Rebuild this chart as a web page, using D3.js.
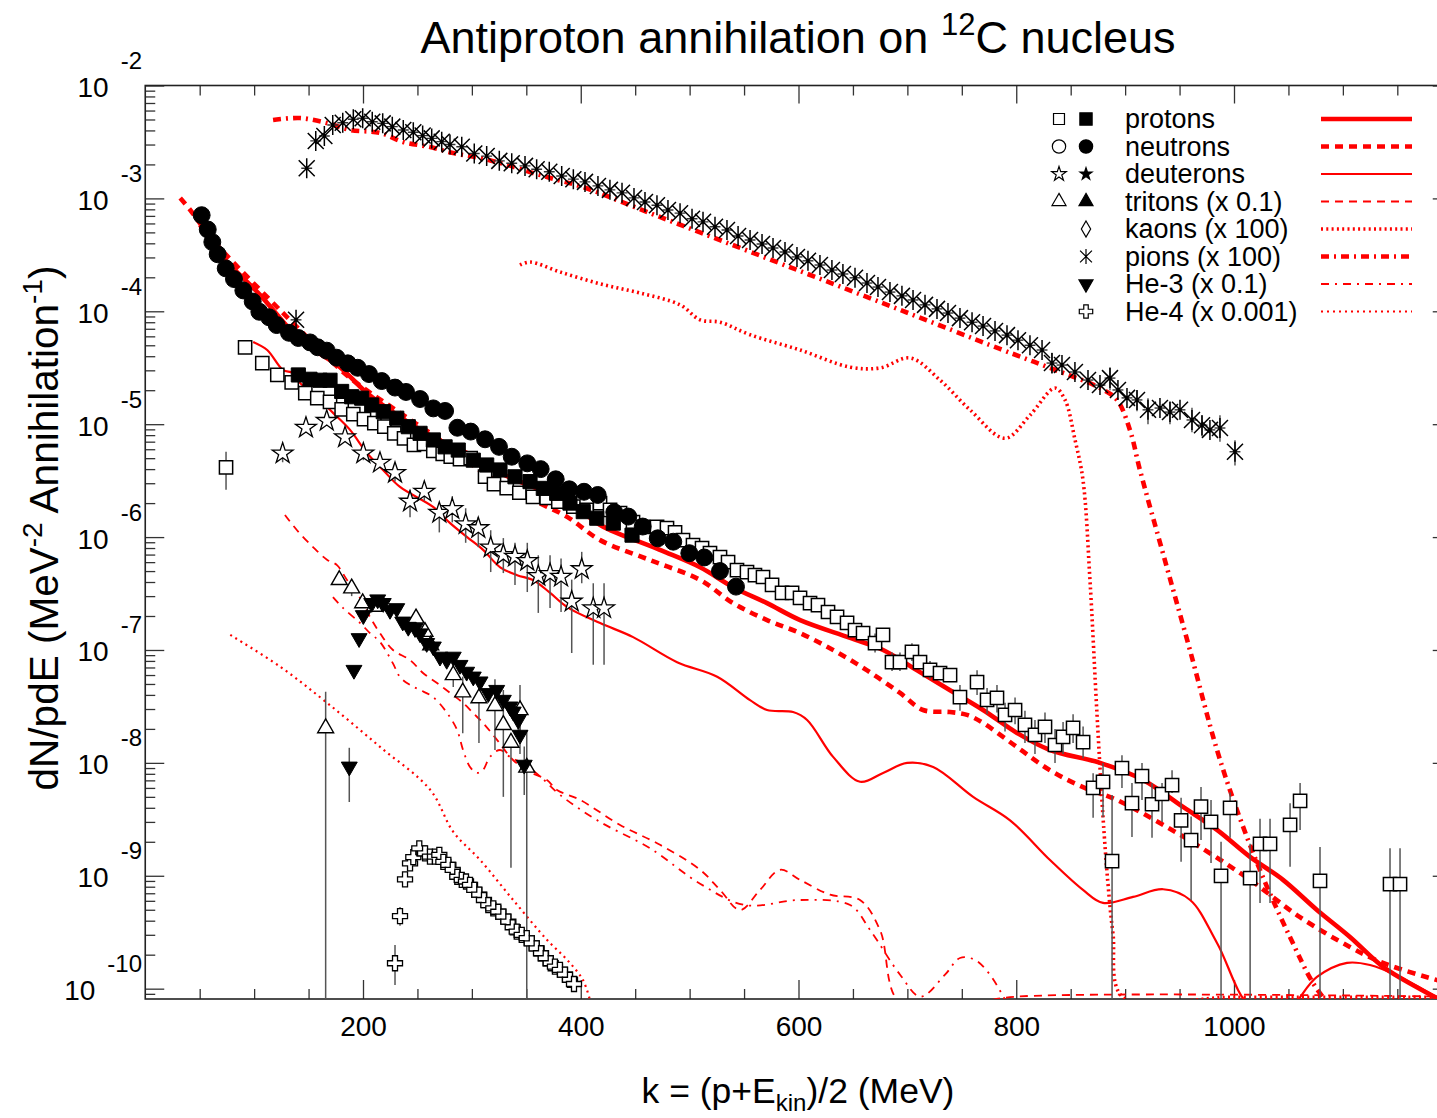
<!DOCTYPE html>
<html>
<head>
<meta charset="utf-8">
<script src="https://cdn.jsdelivr.net/npm/d3@7/dist/d3.min.js"></script>
<style>
body { margin: 0; background: #fff; }
svg { display: block; }
text { font-family: Arial, "Liberation Sans", Helvetica, sans-serif; fill: #000; }
</style>
</head>
<body>
<svg id="chart" width="1437" height="1118"></svg>
<script>
// ---- data: [k (MeV), dN/pdE] ; optional [k, v, low, high] for error bars ----
const protonCurve = [[50.3,5.8e-4],[71.5,3.0e-4],[105.6,1.39e-4],[142.2,5.6e-5],[178.9,3.2e-5],[203.6,1.89e-5],[234,1.16e-5],[264.4,7.7e-6],[295.6,5.55e-6],[326,3.7e-6],[356.2,2.78e-6],[387.5,2.13e-6],[417.8,1.28e-6],[472.7,7.7e-7],[509.6,5.4e-7],[539.9,3.6e-7],[571.1,2.6e-7],[601.5,1.84e-7],[647.4,1.28e-7],[677.7,1.0e-7],[708.9,6.6e-8],[739.2,4.4e-8],[769.5,2.94e-8],[800.7,1.84e-8],[831,1.3e-8],[877,1.0e-8],[916.5,7.06e-9],[953.2,4.07e-9],[984.4,2.55e-9],[1014.7,1.47e-9],[1045,9.2e-10],[1076.2,4.98e-10],[1106.5,2.87e-10],[1136.9,1.56e-10],[1168,1.03e-10],[1198,7.2e-11]];
const neutronCurve = [[32.1,1.01e-3],[41.3,7.9e-4],[59.5,4.55e-4],[80.6,2.73e-4],[114.6,1.26e-4],[139.4,7.25e-5],[160.5,4.54e-5],[188.1,2.57e-5],[234,1.26e-5],[270.7,7.25e-6],[316.6,3.4e-6],[356.2,2.13e-6],[387.5,1.51e-6],[417.8,9.4e-7],[463.7,6.25e-7],[509.6,4.17e-7],[539.9,2.6e-7],[571.1,1.84e-7],[601.5,1.41e-7],[631.8,1.0e-7],[663,6.6e-8],[693.3,4.16e-8],[714.4,2.94e-8],[739.2,2.82e-8],[754.8,2.66e-8],[769.5,2.26e-8],[800.7,1.38e-8],[831,8.6e-9],[861.3,6.1e-9],[892.5,4.69e-9],[938.4,2.7e-9],[968.8,1.8e-9],[1014.7,9.2e-10],[1060.6,4.3e-10],[1106.5,2.34e-10],[1136.9,1.69e-10],[1186.5,1.19e-10],[1200,1.1e-10]];
const deuteronCurve = [[99.1,5.35e-5],[112,4.54e-5],[126.5,3.02e-5],[135.7,2.84e-5],[142.2,2.32e-5],[157.8,1.74e-5],[172.5,1.26e-5],[188.1,8.9e-6],[203.6,5.55e-6],[218.4,3.93e-6],[234,2.78e-6],[264.4,1.85e-6],[280,1.33e-6],[295.6,1.0e-6],[310.3,7.7e-7],[326,5.4e-7],[341.6,4.6e-7],[356.2,4.17e-7],[371.9,3.2e-7],[387.5,2.4e-7],[417.8,1.73e-7],[448.1,1.3e-7],[488.5,7.8e-8],[525.3,5.8e-8],[555.5,3.6e-8],[571.1,2.94e-8],[595,2.82e-8],[607.9,2.4e-8],[631.8,1.13e-8],[656.6,6.8e-9],[677.7,8.15e-9],[699.8,1.0e-8],[723.7,9.2e-9],[760.4,5.0e-9],[794.3,3.1e-9],[831,1.38e-9],[861.3,7.5e-10],[879.7,5.75e-10],[907.3,6.5e-10],[934.9,7.6e-10],[959.7,6.1e-10],[984.4,2.54e-10],[1014.7,7e-11],[1045,6e-11],[1076.2,1.27e-10],[1103.8,1.69e-10],[1124.9,1.62e-10],[1152.4,1.27e-10],[1186.5,8.4e-11],[1200,7.5e-11]];
const tritonCurve = [[128.3,1.57e-6],[139.4,1.15e-6],[154.1,8.15e-7],[166.9,6.3e-7],[176.1,5.65e-7],[185.3,4.17e-7],[194.5,3.2e-7],[206.4,1.96e-7],[215.6,1.41e-7],[227.5,1.0e-7],[243.2,8.15e-8],[255.1,6.25e-8],[268,5.1e-8],[279.9,4.17e-8],[291.8,3.4e-8],[301,2.77e-8],[310.2,2.26e-8],[323.1,1.6e-8],[337.8,1.06e-8],[353.4,8.3e-9],[369,7.05e-9],[378.2,5.75e-9],[399.4,4.7e-9],[436.1,2.82e-9],[472.8,1.88e-9],[509.6,1.13e-9],[527.9,7.5e-10],[546.3,4.97e-10],[564.7,7.5e-10],[583,1.13e-9],[601.4,9.2e-10],[629,6.8e-10],[656.5,6.1e-10],[674.9,3.3e-10],[693.2,7.5e-11],[760,7.5e-11],[800,8.5e-11],[1200,8.5e-11]];
const kaonCurve = [[344.2,2.57e-4],[353.4,2.73e-4],[380.9,2.23e-4],[417.8,1.75e-4],[454.5,1.45e-4],[491.3,1.14e-4],[509.6,8.4e-5],[528,8.0e-5],[555.5,6.2e-5],[601.5,4.54e-5],[647.4,3.2e-5],[675,3.15e-5],[702.5,3.86e-5],[730,2.46e-5],[757.5,1.34e-5],[789.7,7.5e-6],[812.6,1.2e-5],[835.6,2.09e-5],[844.8,1.64e-5],[854,7.25e-6],[861.3,3.2e-6],[867.7,4.17e-7],[874.1,2.77e-8],[879.7,3.3e-9],[884.2,8.6e-10],[888.8,3.1e-10],[897.9,8.4e-11],[1000,8.4e-11],[1200,8.4e-11]];
const pionCurve = [[117.4,4.95e-3],[142.2,5.15e-3],[167,4.65e-3],[188.1,4.04e-3],[215.7,3.8e-3],[236.8,3.16e-3],[261.6,2.85e-3],[282.7,2.52e-3],[307.5,2.28e-3],[332.3,1.98e-3],[356.2,1.68e-3],[378.2,1.46e-3],[402.1,1.26e-3],[463.7,7.4e-4],[509.6,5.0e-4],[601.5,2.27e-4],[693.3,1.03e-4],[785.1,4.64e-5],[831,3.15e-5],[877,2.09e-5],[892.5,1.64e-5],[904.4,8.9e-6],[913.6,3.93e-6],[936.5,6.25e-7],[959.5,1.0e-7],[984.4,1.3e-8],[1002.7,3.83e-9],[1026.6,9.7e-10],[1051.4,2.87e-10],[1072.6,1.12e-10],[1088,7e-11]];
const he3Curve = [[172.4,2.94e-7],[181.6,2.36e-7],[197.2,1.74e-7],[206.4,1.41e-7],[215.6,1.18e-7],[227.5,7.6e-8],[234,5.75e-8],[243.2,4.9e-8],[252.4,4.42e-8],[264.3,3.83e-8],[277.2,2.77e-8],[286.4,1.96e-8],[291.9,1.3e-8],[298.3,9.2e-9],[304.7,8.15e-9],[310.2,8.65e-9],[316.6,1.13e-8],[325.8,1.3e-8],[335,1.13e-8],[348.8,9.6e-9],[362.6,7.6e-9],[381,5.2e-9],[417.7,3.0e-9],[463.7,1.75e-9],[509.6,8.5e-10],[550.9,5.5e-10],[601.5,6.1e-10],[647.4,5.5e-10],[665.8,3.3e-10],[693.3,1.33e-10],[712,8.5e-11],[734.6,1.33e-10],[748.3,1.87e-10],[762,1.8e-10],[775.9,1.33e-10],[789.6,8e-11]];
const he4Curve = [[78.1,1.36e-7],[124,7.1e-8],[167.2,3.39e-8],[215.9,1.38e-8],[261.8,5.76e-9],[282.9,2.45e-9],[307.6,1.38e-9],[337.9,6.1e-10],[369.1,2.7e-10],[387.5,1.8e-10],[402.1,1.19e-10],[408.6,7.8e-11]];

const protonOpen = [[74.2,4.15e-6,2.62e-6,5.7e-6],[91.7,4.8e-5],[107.5,3.47e-5],[121.3,2.73e-5],[134.5,2.35e-5],[147,1.88e-5],[158,1.7e-5],[169.7,1.58e-5],[180.4,1.35e-5],[191.1,1.23e-5],[200.9,1.11e-5],[210.4,1.02e-5],[219.6,9.5e-6],[228.7,8.3e-6],[237.7,7.5e-6],[246.8,6.55e-6],[256,6.7e-6],[264.6,5.8e-6],[273.2,5.45e-6],[280.6,5.15e-6],[289.1,4.9e-6],[298.9,5.0e-6],[312.1,3.43e-6],[320.3,2.95e-6],[332,2.72e-6],[343.6,2.47e-6],[356.1,2.27e-6],[368.7,2.22e-6],[379.4,2.06e-6],[393.2,1.86e-6],[405.5,1.74e-6],[417.7,2.0e-6],[426.9,1.74e-6],[436.1,1.63e-6],[448,1.36e-6],[457.2,1.23e-6],[470.1,1.23e-6],[479.2,1.2e-6],[486.6,1.1e-6],[493.9,9.4e-7],[503.1,8.5e-7],[511.4,8.0e-7],[518.7,7.2e-7],[527.9,6.65e-7],[535.3,6.0e-7],[543.5,5.1e-7],[552.7,4.9e-7],[560,4.6e-7],[567.4,4.43e-7],[575.7,3.77e-7],[584.9,3.2e-7],[594.1,3.2e-7],[601.4,2.9e-7],[610.6,2.6e-7],[617.9,2.5e-7],[627.1,2.17e-7],[635.4,1.96e-7],[644.6,1.74e-7],[651.9,1.5e-7],[659.3,1.41e-7],[670.3,1.15e-7,9.5e-8,1.4e-7],[677.6,1.36e-7],[685.9,7.8e-8,6.5e-8,9.5e-8],[693.2,7.8e-8,6.5e-8,9.5e-8],[704.2,9.6e-8,8.0e-8,1.15e-7],[711.6,7.8e-8],[720.8,6.65e-8,5.5e-8,8.0e-8],[730,6.25e-8],[739.2,6.0e-8],[748.3,3.83e-8,2.9e-8,4.9e-8],[764,5.2e-8,4.0e-8,6.6e-8],[773.2,3.61e-8,2.7e-8,4.6e-8],[782.3,3.76e-8,2.8e-8,4.9e-8],[789.7,2.66e-8,1.9e-8,3.4e-8],[798.9,2.94e-8,2.2e-8,3.8e-8],[808,2.17e-8,1.5e-8,2.9e-8],[817.2,1.77e-8,1.2e-8,2.4e-8],[826.4,2.08e-8,1.5e-8,2.8e-8],[835.6,1.44e-8,1.0e-8,2.0e-8],[843,1.7e-8,1.2e-8,2.3e-8],[852.2,2.04e-8,1.5e-8,2.7e-8],[861.4,1.53e-8,1.1e-8,2.1e-8],[870.6,6.0e-9,3.26e-9,8.1e-9],[879.7,6.8e-9,3.3e-9,1.0e-8],[888,1.35e-9,1e-11,5.2e-9],[897.1,9.0e-9,6.0e-9,1.17e-8],[906.3,4.4e-9,2.2e-9,6.65e-9],[915.5,7.65e-9,4.7e-9,1.0e-8],[924.7,4.3e-9,2.17e-9,6.65e-9],[933.9,5.3e-9,3.0e-9,6.65e-9],[943.1,6.35e-9,5.4e-9,8.6e-9],[951.4,3.1e-9,1.33e-9,4.9e-9],[960.6,2.07e-9,6.1e-10,3.35e-9],[969.7,4.1e-9,2.07e-9,6.1e-9],[978.9,3.0e-9,1.3e-9,4.7e-9],[988.1,1.0e-9,1e-11,2.0e-9],[996.4,4.0e-9,2.17e-9,5.5e-9],[1014.8,9.55e-10,1e-11,1.92e-9],[1023.9,1.92e-9,5.75e-10,3.2e-9],[1033.1,1.92e-9,5.75e-10,3.2e-9],[1051.5,2.82e-9,1.2e-9,4.4e-9],[1060.7,4.6e-9,2.55e-9,6.65e-9],[1079,9.0e-10,1e-11,1.8e-9],[1143.3,8.45e-10,1e-11,1.75e-9],[1152.5,8.45e-10,1e-11,1.75e-9]];
const protonFilled = [[140.6,2.73e-5],[151.3,2.5e-5],[160.5,2.45e-5],[169.7,2.45e-5],[180.4,1.95e-5],[189.6,1.75e-5],[198.8,1.7e-5],[208,1.48e-5],[218.6,1.29e-5],[231,1.13e-5],[241.6,9.5e-6],[252.4,8.3e-6],[264.6,7.25e-6],[275.4,6.3e-6],[287.5,5.9e-6],[301.3,4.8e-6],[313.6,4.35e-6],[325.8,3.93e-6],[339.6,3.42e-6],[353.4,3.1e-6],[365.6,2.7e-6],[377.9,2.44e-6],[390.1,2.0e-6],[402.3,1.68e-6],[414.7,1.47e-6],[429.9,1.33e-6],[447.1,1.04e-6]];
const neutronFilled = [[51.8,7.1e-4],[57.4,5.3e-4],[61.6,4.1e-4],[66.5,3.2e-4],[73.9,2.4e-4],[81.5,1.93e-4],[90.1,1.53e-4],[98.7,1.22e-4],[104.8,9.9e-5],[113.7,8.85e-5],[120.7,7.55e-5],[132,6.45e-5],[140.6,5.8e-5],[151.4,5.3e-5],[158.4,4.8e-5],[166.7,4.48e-5],[175.8,3.88e-5],[186,3.46e-5],[195.1,3.16e-5],[205.5,2.78e-5],[217.2,2.41e-5],[229.4,2.11e-5],[239.5,1.93e-5],[252.4,1.67e-5],[264.6,1.38e-5],[275.4,1.31e-5],[286.7,9.3e-6],[298.9,8.6e-6],[312.1,7.35e-6],[324.9,6.3e-6],[336.6,5.15e-6],[350.9,4.5e-6],[363.2,4.0e-6],[377,3.25e-6],[389.5,2.65e-6],[403,2.52e-6],[415.6,2.36e-6],[430.8,1.66e-6],[443.7,1.52e-6],[456.9,1.24e-6],[470.7,9.75e-7],[485,9.1e-7],[499.7,7.2e-7],[513.5,6.6e-7],[527.9,5.0e-7],[542.6,3.64e-7]];
const deuteronOpen = [[126.2,5.5e-6,4.6e-6,6.4e-6],[147.6,9.3e-6],[166.7,1.07e-5],[183.5,7.65e-6],[200.3,5.5e-6,4.8e-6,6.3e-6],[215.6,4.55e-6],[229.4,3.7e-6,3.1e-6,4.3e-6],[243.2,2.06e-6,1.5e-6,2.62e-6],[256.3,2.52e-6,2.1e-6,2.9e-6],[270.1,1.64e-6,1.1e-6,2.0e-6],[282,1.77e-6,1.35e-6,2.3e-6],[294.3,1.3e-6,8.9e-7,1.8e-6],[305.9,1.2e-6,8.15e-7,1.5e-6],[317.3,8.1e-7,4.9e-7,1.15e-6],[328.9,6.95e-7,4.8e-7,9.8e-7],[339.6,6.7e-7,3.76e-7,8.9e-7],[350.9,6.15e-7,3.26e-7,8.9e-7],[361,4.52e-7,2.13e-7,6.9e-7],[371.8,4.7e-7,2.36e-7,6.9e-7],[381.9,4.45e-7,2.17e-7,6.45e-7],[391.7,2.68e-7,9.4e-8,4.2e-7],[400.9,5.2e-7,3.9e-7,7.4e-7],[411.5,2.34e-7,7.4e-8,3.9e-7],[421.4,2.34e-7,7.4e-8,3.9e-7]];
const tritonOpen = [[165.7,2.03e-8,1e-11,4.26e-8],[178.2,4.17e-7],[189.6,3.52e-7,3.0e-7,4.1e-7],[199.7,2.6e-7],[210.4,2.42e-7],[248.7,1.91e-7,1.5e-7,2.3e-7],[256.9,1.45e-7],[262.2,1.1e-7],[282.9,6.0e-8,4.7e-8,7.4e-8],[291.6,4.22e-8,1.83e-8,5.8e-8],[306.5,3.74e-8,1.5e-8,5.1e-8],[321.2,3.2e-8,1.3e-8,5.5e-8],[328.9,2.17e-8,5.0e-9,4.42e-8],[335.9,1.51e-8,1.18e-9,1.7e-8],[344.2,2.94e-8,1.96e-8,4.9e-8],[350.4,9.1e-9,1e-11,1.96e-8]];
const he3Filled = [[187.4,9.25e-9,4.5e-9,1.36e-8],[191.7,6.65e-8],[196.4,1.27e-7],[200.3,2.03e-7],[208,2.6e-7],[213.5,2.8e-7],[218.6,2.6e-7],[224.8,2.26e-7],[231,2.34e-7],[236.5,1.78e-7],[241.6,1.6e-7],[247.8,1.56e-7],[252.4,1.4e-7],[258.5,1.15e-7],[264.6,1.07e-7],[270.7,8.7e-8],[276.9,8.15e-8],[282.9,8.7e-8],[289.1,7.36e-8],[295.2,6.4e-8],[301.3,5.8e-8],[307.5,5.25e-8],[315.1,4.14e-8],[322.8,4.42e-8],[328.9,3.61e-8],[335,3.15e-8],[338,2.84e-8],[342.6,2.4e-8,1.8e-8,3.1e-8],[344.2,1.77e-8,1.2e-8,2.4e-8],[348.1,9.6e-9,5.2e-9,1.4e-8]];
const he4Open = [[229.4,1.68e-10,1.08e-10,2.44e-10],[234,4.4e-10,3.6e-10,5.3e-10],[238.6,9.3e-10],[243.2,1.29e-9],[246.2,1.46e-9],[251.7,1.75e-9],[257,1.58e-9],[261.5,1.48e-9],[266.1,1.48e-9],[270.1,1.53e-9],[273.8,1.33e-9],[278.4,1.25e-9],[282.4,1.13e-9],[286.6,9.8e-10],[290.7,9.2e-10],[294.6,8.9e-10],[298.3,8.3e-10],[302.2,7.5e-10],[306.8,6.8e-10],[311.1,6.1e-10],[315.1,5.5e-10],[319.7,5.15e-10],[324.3,4.8e-10],[328.9,4.34e-10],[333.5,3.93e-10],[337.5,3.5e-10],[341.2,3.2e-10],[345.8,3.0e-10],[350.4,2.8e-10],[355,2.52e-10],[359.5,2.27e-10],[363.5,2.06e-10],[367.8,1.86e-10],[372.4,1.68e-10],[376.3,1.57e-10],[380.9,1.47e-10],[385.5,1.33e-10],[390.1,1.2e-10],[393.8,1.1e-10]];
const pionStars = [[138.5,8.4e-5],[148.3,1.85e-3],[156.6,3.23e-3],[164.5,3.57e-3],[172.2,4.47e-3],[181.4,4.68e-3],[191.1,5.02e-3],[199.7,5.12e-3],[208.5,4.77e-3],[218.1,4.62e-3],[226.9,4.32e-3],[237,4.04e-3],[246.2,3.85e-3],[254.8,3.6e-3],[263.1,3.4e-3],[272.3,3.18e-3],[279.9,3.0e-3],[290.7,2.87e-3],[302.2,2.5e-3],[313.6,2.37e-3],[325.2,2.15e-3],[336.6,2.05e-3],[348.8,1.94e-3],[359.5,1.81e-3],[371.1,1.72e-3],[382.5,1.58e-3],[393.2,1.48e-3],[403.9,1.4e-3],[415.8,1.29e-3],[426.8,1.19e-3],[437.9,1.12e-3],[448.9,1.01e-3],[459,9.3e-4],[470,8.7e-4],[480.1,7.9e-4],[491.2,7.4e-4],[502.2,6.6e-4],[512.3,6.2e-4],[523.3,5.6e-4],[534.3,5.25e-4],[544.5,4.64e-4],[555.5,4.28e-4],[566.5,3.95e-4],[576.6,3.64e-4],[587.6,3.35e-4],[598.6,3.03e-4],[608.7,2.8e-4],[619.7,2.57e-4],[630.7,2.32e-4],[640.8,2.14e-4],[651.9,1.98e-4],[662.9,1.78e-4],[673,1.64e-4],[684,1.48e-4],[695,1.37e-4],[705.2,1.26e-4],[716.2,1.14e-4],[727.2,1.05e-4],[737.3,9.65e-5],[748.3,8.7e-5],[759.4,8.0e-5],[769.5,7.4e-5],[780.5,6.7e-5],[791.5,6.15e-5],[801.6,5.55e-5],[812.6,5.0e-5],[823.7,4.54e-5],[832.8,3.48e-5,2.8e-5,4.3e-5],[842,3.34e-5],[853.9,2.9e-5],[865.9,2.46e-5],[876.9,2.22e-5],[886.1,2.56e-5,2.0e-5,3.2e-5],[893.4,2.01e-5],[901.7,1.71e-5],[910.9,1.64e-5,1.3e-5,2.0e-5],[921,1.34e-5,1.0e-5,1.7e-5],[932,1.39e-5],[941.2,1.28e-5,1.0e-5,1.6e-5],[950.4,1.34e-5],[961.4,1.09e-5,8.5e-6,1.4e-5],[970.6,9.8e-6,7.8e-6,1.2e-5],[977.9,8.9e-6],[987.1,9.25e-6,7.0e-6,1.2e-5],[1000.9,5.7e-6,4.3e-6,7.2e-6]];

const legendLabels = ["protons", "neutrons", "deuterons", "tritons (x 0.1)", "kaons (x 100)", "pions (x 100)", "He-3 (x 0.1)", "He-4 (x 0.001)"];
const xMajorTicks = [200, 400, 600, 800, 1000];
const yExponents = [-2, -3, -4, -5, -6, -7, -8, -9, -10];

// ---- layout ----
const svg = d3.select("#chart");
const x = d3.scaleLinear().domain([0, 1200]).range([145.25, 1451.75]);
const y = d3.scaleLog().domain([1e-2, 8.1e-11]).range([85.5, 999]);
const RED = "#ff0000";

svg.append("defs").append("clipPath").attr("id", "plot")
	.append("rect").attr("x", x(0)).attr("y", y(1e-2))
	.attr("width", x(1200) - x(0)).attr("height", y(8.1e-11) - y(1e-2));

// ---- axes (ticks inward, major and minor) ----
const xMinor = d3.range(50, 1200, 50).filter((v) => v % 200 !== 0);
const yMajor = yExponents.map((e) => Math.pow(10, e));
const yMinor = [];
for (let e = -11; e <= -3; e++) for (let m = 2; m <= 9; m++) {
	const v = m * Math.pow(10, e);
	if (v >= 8.1e-11 && v < 1e-2) yMinor.push(v);
}

function axisGroup(axis, tx, ty) {
	const g = svg.append("g").attr("transform", `translate(${tx},${ty})`).call(axis);
	g.select(".domain").remove();
	g.selectAll(".tick line").attr("stroke", "#333").attr("stroke-width", 1.3);
	return g;
}
const yb = y(8.1e-11), yt = y(1e-2);
axisGroup(d3.axisBottom(x).tickValues(xMinor).tickSize(-10).tickFormat(""), 0, yb);
const xLab = axisGroup(d3.axisBottom(x).tickValues(xMajorTicks).tickSize(-19).tickPadding(17).tickFormat(d3.format("d")), 0, yb);
xLab.selectAll("text").attr("font-size", 28).attr("fill", "#000");
axisGroup(d3.axisTop(x).tickValues(xMinor).tickSize(-10).tickFormat(""), 0, yt);
axisGroup(d3.axisTop(x).tickValues(xMajorTicks).tickSize(-18).tickFormat(""), 0, yt);
axisGroup(d3.axisLeft(y).tickValues(yMinor).tickSize(-10).tickFormat(""), x(0), 0);
axisGroup(d3.axisLeft(y).tickValues(yMajor).tickSize(-19).tickFormat(""), x(0), 0);
axisGroup(d3.axisRight(y).tickValues(yMinor).tickSize(-10).tickFormat(""), x(1200), 0);
axisGroup(d3.axisRight(y).tickValues(yMajor).tickSize(-19).tickFormat(""), x(1200), 0);

svg.append("rect").attr("x", x(0)).attr("y", yt).attr("width", x(1200) - x(0)).attr("height", yb - yt)
	.attr("fill", "none").attr("stroke", "#222").attr("stroke-width", 1.6);

// y tick labels: 10 with exponent up-right
yExponents.forEach((e) => {
	const py = y(Math.pow(10, e));
	const ex = svg.append("text").attr("x", 142).attr("y", py - 16.5).attr("text-anchor", "end")
		.attr("font-size", 24).text(String(e));
	const w = ex.node().getComputedTextLength();
	svg.append("text").attr("x", 142 - w - 12).attr("y", py + 11.5).attr("text-anchor", "end")
		.attr("font-size", 28).text("10");
});

// ---- titles ----
const title = svg.append("text").attr("x", 798).attr("y", 53).attr("text-anchor", "middle").attr("font-size", 45);
title.append("tspan").text("Antiproton annihilation on ");
title.append("tspan").attr("font-size", 31).attr("dy", -18).text("12");
title.append("tspan").attr("dy", 18).text("C nucleus");

const xt = svg.append("text").attr("x", 798).attr("y", 1103).attr("text-anchor", "middle").attr("font-size", 35.5);
xt.append("tspan").text("k = (p+E");
xt.append("tspan").attr("font-size", 24).attr("dy", 8).text("kin");
xt.append("tspan").attr("dy", -8).text(")/2 (MeV)");

const yl = svg.append("text").attr("transform", "translate(58,528) rotate(-90)").attr("text-anchor", "middle").attr("font-size", 40.5);
yl.append("tspan").text("dN/pdE (MeV");
yl.append("tspan").attr("font-size", 28).attr("dy", -16).text("-2");
yl.append("tspan").attr("dy", 16).text(" Annihilation");
yl.append("tspan").attr("font-size", 28).attr("dy", -16).text("-1");
yl.append("tspan").attr("dy", 16).text(")");

// ---- curves ----
const plot = svg.append("g").attr("clip-path", "url(#plot)");
const line = d3.line().x((d) => x(d[0])).y((d) => y(d[1])).curve(d3.curveCatmullRom.alpha(0.5));

const curveStyles = [
	{ data: protonCurve, w: 4.6, dash: null },
	{ data: neutronCurve, w: 4.6, dash: "8,6" },
	{ data: deuteronCurve, w: 2.2, dash: null },
	{ data: tritonCurve, w: 1.8, dash: "8,6" },
	{ data: kaonCurve, w: 3.6, dash: "2,3.3" },
	{ data: pionCurve, w: 4.6, dash: "8,5,2,5" },
	{ data: he3Curve, w: 1.8, dash: "8,6,2,6" },
	{ data: he4Curve, w: 2.2, dash: "2,4" }
];
curveStyles.forEach((c) => {
	plot.append("path").datum(c.data).attr("d", line).attr("fill", "none")
		.attr("stroke", RED).attr("stroke-width", c.w).attr("stroke-dasharray", c.dash);
});

// ---- markers ----
const sym = (type, size) => d3.symbol().type(type).size(size)();
const downTri = {
	draw(ctx, size) {
		const s = Math.sqrt(size * 4 / Math.sqrt(3)), h = s * Math.sqrt(3) / 2;
		ctx.moveTo(0, h * 2 / 3); ctx.lineTo(-s / 2, -h / 3); ctx.lineTo(s / 2, -h / 3); ctx.closePath();
	}
};
const asterisk = {
	draw(ctx, size) {
		const r = Math.sqrt(size) / 2, a = r * 0.8;
		ctx.moveTo(0, -r); ctx.lineTo(0, r);
		ctx.moveTo(-a, -a); ctx.lineTo(a, a);
		ctx.moveTo(-a, a); ctx.lineTo(a, -a);
	}
};

function errorBars(data) {
	plot.append("g").selectAll("line").data(data.filter((d) => d.length > 2)).join("line")
		.attr("x1", (d) => x(d[0])).attr("x2", (d) => x(d[0]))
		.attr("y1", (d) => y(d[2])).attr("y2", (d) => y(d[3]))
		.attr("stroke", "#555").attr("stroke-width", 1.5);
}
function markers(data, path, fill, sw) {
	plot.append("g").selectAll("path").data(data).join("path")
		.attr("transform", (d) => `translate(${x(d[0])},${y(d[1])})`)
		.attr("d", path).attr("fill", fill).attr("stroke", "#000").attr("stroke-width", sw);
}

[protonOpen, deuteronOpen, tritonOpen, he3Filled, he4Open, pionStars].forEach(errorBars);
markers(he4Open, sym(d3.symbolCross, 125), "#fff", 1.3);
markers(protonOpen, sym(d3.symbolSquare, 175), "#fff", 1.5);
markers(protonFilled, sym(d3.symbolSquare, 200), "#000", 1);
markers(neutronFilled, sym(d3.symbolCircle, 225), "#000", 1);
markers(deuteronOpen, sym(d3.symbolStar, 135), "#fff", 1.3);
markers(tritonOpen, sym(d3.symbolTriangle, 110), "#fff", 1.4);
markers(he3Filled, sym(downTri, 110), "#000", 1);
// pions: horizontal bin bars, asterisk, centre dot
plot.append("g").selectAll("line").data(pionStars).join("line")
	.attr("x1", (d) => x(d[0] - 5)).attr("x2", (d) => x(d[0] + 5))
	.attr("y1", (d) => y(d[1])).attr("y2", (d) => y(d[1]))
	.attr("stroke", "#333").attr("stroke-width", 1.4);
markers(pionStars, sym(asterisk, 400), "none", 1.5);
markers(pionStars, sym(d3.symbolCircle, 10), "#000", 0);

// ---- legend ----
const lg = svg.append("g");
const rowY = (i) => 119 + i * 27.5;
const legendMarks = [
	[sym(d3.symbolSquare, 120), "#fff", sym(d3.symbolSquare, 150), "#000"],
	[sym(d3.symbolCircle, 140), "#fff", sym(d3.symbolCircle, 140), "#000"],
	[sym(d3.symbolStar, 65), "#fff", sym(d3.symbolStar, 45), "#000"],
	[sym(d3.symbolTriangle, 85), "#fff", sym(d3.symbolTriangle, 85), "#000"],
	[null, null, sym(d3.symbolDiamond, 75), "#fff"],
	[null, null, sym(asterisk, 220), "none"],
	[null, null, sym(downTri, 85), "#000"],
	[null, null, sym(d3.symbolCross, 100), "#fff"]
];
legendLabels.forEach((label, i) => {
	const cy = rowY(i);
	const m = legendMarks[i];
	if (m[0]) lg.append("path").attr("transform", `translate(1059,${cy})`).attr("d", m[0]).attr("fill", m[1]).attr("stroke", "#000").attr("stroke-width", 1.2);
	lg.append("path").attr("transform", `translate(1086,${cy})`).attr("d", m[2]).attr("fill", m[3]).attr("stroke", "#000").attr("stroke-width", 1.2);
	lg.append("text").attr("x", 1125).attr("y", cy + 9).attr("font-size", 27).text(label);
	const c = curveStyles[i];
	lg.append("line").attr("x1", 1321).attr("x2", 1412).attr("y1", cy).attr("y2", cy)
		.attr("stroke", RED).attr("stroke-width", c.w).attr("stroke-dasharray", c.dash);
});
</script>
</body>
</html>
